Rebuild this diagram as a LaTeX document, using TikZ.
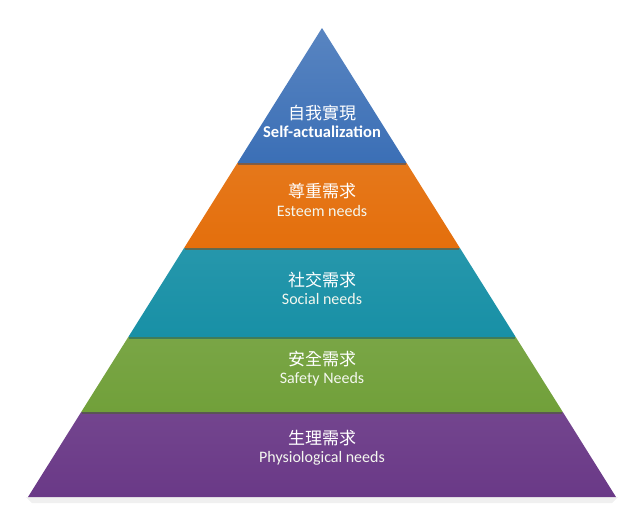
\documentclass[tikz,border=0pt]{standalone}
\usepackage{fontspec}
\setmainfont{Carlito}
\newfontfamily\cjkfont{Noto Sans CJK TC}
\usetikzlibrary{positioning}
\definecolor{pyrblue}{HTML}{3B6FB6}
\definecolor{pyrorange}{HTML}{E46F0C}
\definecolor{pyrteal}{HTML}{1890A6}
\definecolor{pyrgreen}{HTML}{71A03A}
\definecolor{pyrpurple}{HTML}{6A3987}

\begin{document}
\begin{tikzpicture}[
    x=1pt, y=-1pt,
    cjklabel/.style={text=white, font=\cjkfont\fontsize{17}{17}\selectfont, inner sep=0pt},
    englabel/.style={text=white!92!pyrgreen, font=\fontsize{16}{16}\selectfont, inner sep=0pt},
    rim/.style={line width=1.2pt, draw opacity=0.5}
]
    \useasboundingbox (0,0) rectangle (643,530);

    % faint shadow under the base
    \fill[black!6] (26,497) -- (618,497) -- (612,503) -- (32,503) -- cycle;

    % layers, bottom to top
    \shade[top color=pyrpurple!94!white, bottom color=pyrpurple] (81.2,412) -- (562.8,412) -- (616,497) -- (28,497) -- cycle;
    \shade[top color=pyrgreen!94!white, bottom color=pyrgreen] (128.3,337) -- (515.7,337) -- (562.8,412) -- (81.2,412) -- cycle;
    \shade[top color=pyrteal!94!white, bottom color=pyrteal] (184.1,248) -- (459.9,248) -- (515.7,337) -- (128.3,337) -- cycle;
    \shade[top color=pyrorange!94!white, bottom color=pyrorange] (237.4,163) -- (406.6,163) -- (459.9,248) -- (184.1,248) -- cycle;
    \shade[top color=pyrblue!85!white, bottom color=pyrblue] (322,28) -- (406.6,163) -- (237.4,163) -- cycle;

    % dark rims where one layer sits on the next
    \draw[rim, pyrblue!60!black] (238,164) -- (406,164);
    \draw[rim, pyrorange!60!black] (185,249) -- (459,249);
    \draw[rim, pyrteal!60!black] (129,338) -- (515,338);
    \draw[rim, pyrgreen!60!black] (82,413) -- (562,413);

    % labels
    \node[cjklabel] (c1) at (322,113) {自我實現};
    \node[englabel, text=white, font=\bfseries\fontsize{16.5}{16.5}\selectfont, below=5pt of c1] (e1) {Self-actualization};
    \node[cjklabel] (c2) at (322,191) {尊重需求};
    \node[englabel, below=6pt of c2] (e2) {Esteem needs};
    \node[cjklabel] (c3) at (322,280) {社交需求};
    \node[englabel, below=5pt of c3] (e3) {Social needs};
    \node[cjklabel] (c4) at (322,359) {安全需求};
    \node[englabel, below=5.5pt of c4] (e4) {Safety Needs};
    \node[cjklabel] (c5) at (322,438) {生理需求};
    \node[englabel, below=5pt of c5] (e5) {Physiological needs};
\end{tikzpicture}
\end{document}
